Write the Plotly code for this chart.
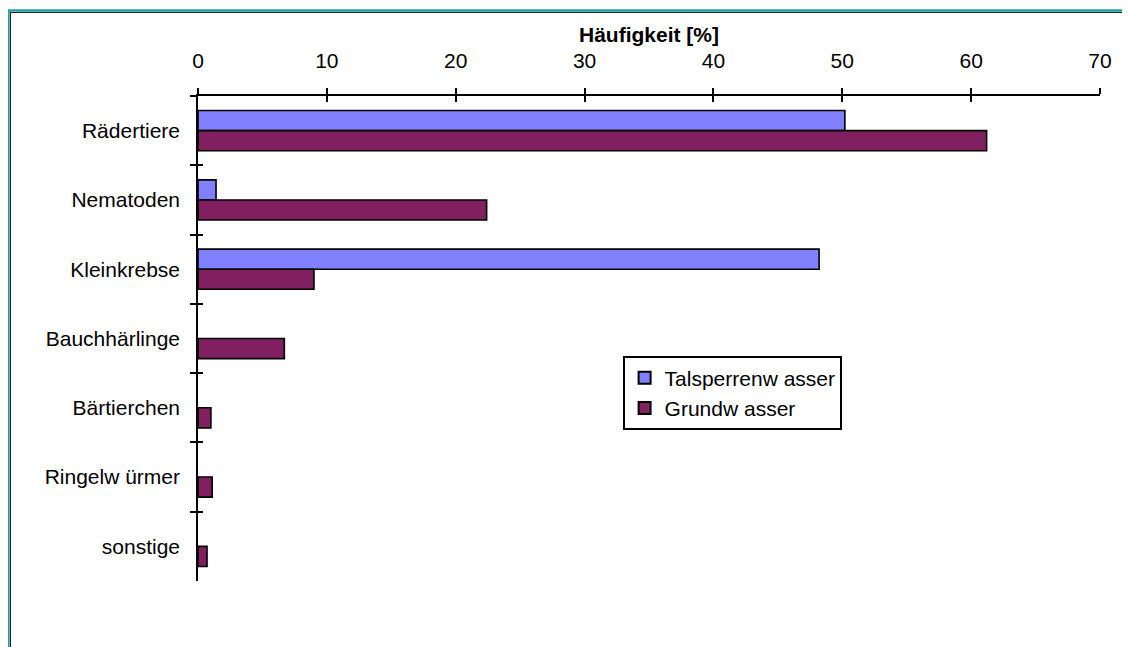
import plotly.graph_objects as go

categories = ["Rädertiere", "Nematoden", "Kleinkrebse", "Bauchhärlinge",
              "Bärtierchen", "Ringelw ürmer", "sonstige"]
talsperrenwasser = [50.2, 1.4, 48.2, 0, 0, 0, 0]
grundwasser = [61.2, 22.4, 9.0, 6.7, 1.0, 1.1, 0.7]
x_tickvals = [0, 10, 20, 30, 40, 50, 60, 70]
series_names = ["Talsperrenw asser", "Grundw asser"]
axis_title = "Häufigkeit [%]"

FONT = "Liberation Sans, Arial, sans-serif"
FS = 21
OFF = 8  # page body margin offset
W, H = 1130 - OFF, 647 - OFF
ML, MT = 198 - OFF, 96 - OFF
MR = W - (1100 - OFF)
MB = H - (581 - OFF)
PW, PH = W - ML - MR, H - MT - MB


def px_x(p):
    return (p - OFF - ML) / PW


def px_y(p):
    return 1 - (p - OFF - MT) / PH


def line_widths(vals, w=1.6):
    return [w if v > 0 else 0 for v in vals]


fig = go.Figure()
fig.add_trace(go.Bar(
    y=categories, x=talsperrenwasser, orientation="h", name=series_names[0],
    marker=dict(color="#8080FF",
                line=dict(color="black", width=line_widths(talsperrenwasser))),
))
fig.add_trace(go.Bar(
    y=categories, x=grundwasser, orientation="h", name=series_names[1],
    marker=dict(color="#802060",
                line=dict(color="black", width=line_widths(grundwasser))),
))
# invisible trace on overlay axes (for crossing tick marks)
fig.add_trace(go.Scatter(
    x=[None], y=[None], xaxis="x2", yaxis="y2", mode="markers",
    showlegend=False, hoverinfo="skip",
))

axis_common = dict(showline=True, linecolor="black", linewidth=1.6,
                   ticks="outside", ticklen=6, tickwidth=1.6, tickcolor="black",
                   showgrid=False, zeroline=False)

fig.update_layout(
    width=W, height=H,
    margin=dict(l=ML, r=MR, t=MT, b=MB),
    paper_bgcolor="white", plot_bgcolor="white",
    font=dict(family=FONT, size=FS, color="black"),
    barmode="group", bargap=0.42, bargroupgap=0,
    xaxis=dict(side="top", range=[0, 70], tickvals=x_tickvals,
               ticklabelstandoff=12, **axis_common),
    yaxis=dict(type="category", categoryorder="array", categoryarray=categories,
               autorange="reversed", tickson="boundaries",
               ticklabelstandoff=12, **axis_common),
    xaxis2=dict(overlaying="x", side="top", range=[0, 70], tickvals=x_tickvals,
                showticklabels=False, showline=False, ticks="inside", ticklen=6,
                tickwidth=1.6, tickcolor="black", showgrid=False, zeroline=False),
    yaxis2=dict(overlaying="y", side="left", type="category", categoryorder="array",
                categoryarray=categories, autorange="reversed", tickson="boundaries",
                range=[-0.5, len(categories) - 0.5],
                showticklabels=False, showline=False, ticks="inside", ticklen=5,
                tickwidth=1.6, tickcolor="black", showgrid=False, zeroline=False),
    legend=dict(x=px_x(623), y=px_y(356), xanchor="left", yanchor="top",
                bordercolor="black", borderwidth=1.6, bgcolor="white",
                font=dict(family=FONT, size=FS), tracegroupgap=0,
                itemsizing="constant"),
    showlegend=True,
)

fig.add_annotation(text="<b>" + axis_title + "</b>", xref="paper", yref="paper",
                   x=0.5, y=px_y(34), xanchor="center", yanchor="middle",
                   showarrow=False, font=dict(family=FONT, size=FS, color="black"))

# chart frame (teal outer line with dark inner line), cropped at right/bottom
fig.add_shape(type="line", xref="paper", yref="paper",
              x0=px_x(8.5), x1=px_x(8.5), y0=px_y(10), y1=px_y(700),
              line=dict(color="#1FA0A8", width=2.5))
fig.add_shape(type="line", xref="paper", yref="paper",
              x0=px_x(7.5), x1=px_x(1200), y0=px_y(10.5), y1=px_y(10.5),
              line=dict(color="#1FA0A8", width=2.5))
fig.add_shape(type="line", xref="paper", yref="paper",
              x0=px_x(10.5), x1=px_x(10.5), y0=px_y(12), y1=px_y(700),
              line=dict(color="#222222", width=1))
fig.add_shape(type="line", xref="paper", yref="paper",
              x0=px_x(10), x1=px_x(1200), y0=px_y(12.5), y1=px_y(12.5),
              line=dict(color="#222222", width=1))

fig.write_html("out.html")
